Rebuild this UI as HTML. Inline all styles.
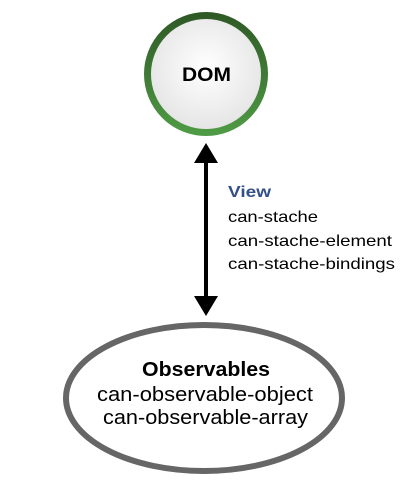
<!DOCTYPE html>
<html><head><style>body{margin:0;background:#fff}</style></head><body>
<svg width="410" height="490" xmlns="http://www.w3.org/2000/svg" font-family="Liberation Sans, sans-serif">
<defs>
<linearGradient id="g" x1="0" y1="0" x2="0" y2="1"><stop offset="0" stop-color="#2f5a26"/><stop offset="1" stop-color="#4f9a45"/></linearGradient>
<radialGradient id="f" cx="0.5" cy="0.45" r="0.55"><stop offset="0" stop-color="#ffffff"/><stop offset="1" stop-color="#e4e4e4"/></radialGradient>
</defs>
<circle cx="206" cy="74" r="58.5" fill="url(#f)" stroke="url(#g)" stroke-width="7"/>
<text x="182" y="81" font-size="19" font-weight="bold" textLength="49" lengthAdjust="spacingAndGlyphs">DOM</text>
<line x1="206" y1="160" x2="206" y2="300" stroke="#000" stroke-width="4"/>
<polygon points="206,143 194,163 218,163" fill="#000"/>
<polygon points="206,316 194,296 218,296" fill="#000"/>
<text x="228" y="197" font-size="16" font-weight="bold" fill="#34508a" textLength="43" lengthAdjust="spacingAndGlyphs">View</text>
<text x="228" y="222" font-size="16" textLength="90" lengthAdjust="spacingAndGlyphs">can-stache</text>
<text x="228" y="246" font-size="16" textLength="164" lengthAdjust="spacingAndGlyphs">can-stache-element</text>
<text x="228" y="269" font-size="16" textLength="167" lengthAdjust="spacingAndGlyphs">can-stache-bindings</text>
<ellipse cx="204" cy="398" rx="138" ry="73" fill="#fff" stroke="#666" stroke-width="6"/>
<text x="142" y="376" font-size="20" font-weight="bold" textLength="128" lengthAdjust="spacingAndGlyphs">Observables</text>
<text x="97" y="401" font-size="20" textLength="216" lengthAdjust="spacingAndGlyphs">can-observable-object</text>
<text x="103" y="424" font-size="20" textLength="205" lengthAdjust="spacingAndGlyphs">can-observable-array</text>
</svg>
</body></html>
